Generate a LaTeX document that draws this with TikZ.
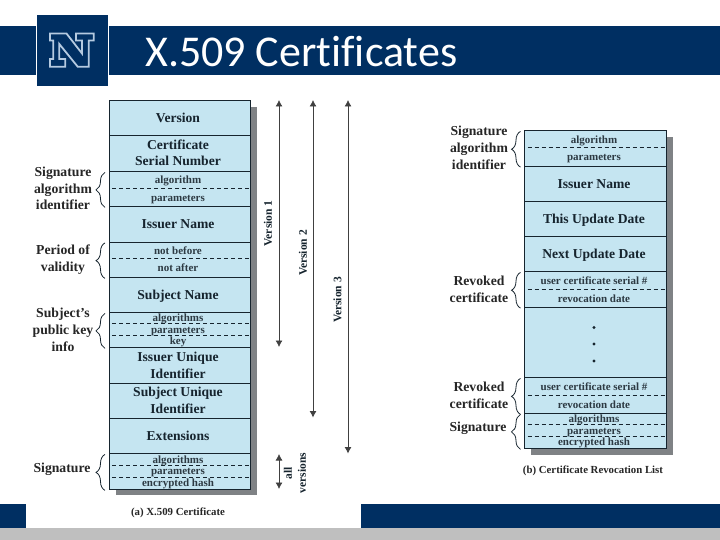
\documentclass[tikz,border=0pt]{standalone}
\usepackage{fontspec}
\setmainfont{Liberation Serif}
\newfontfamily\titlefont[RawFeature={-liga}]{Carlito}
\usetikzlibrary{decorations.pathreplacing,arrows.meta}
\definecolor{navy}{HTML}{002F62}
\definecolor{cellblue}{HTML}{C5E5F1}
\definecolor{inkdark}{HTML}{16242E}
\definecolor{shadowgray}{HTML}{7F8285}
\definecolor{footgray}{HTML}{BFBFBF}
\definecolor{logoline}{HTML}{B5CAE0}
\tikzset{
  x=1pt,y=-1pt,
  cell/.style={draw=inkdark,line width=1.4pt,fill=cellblue,inner sep=0pt,anchor=north west},
  celltext/.style={font=\fontsize{13.6}{15}\selectfont\bfseries,text=inkdark,inner sep=0pt,align=center,text height=11.5pt,text depth=3pt},
  smalltext/.style={font=\fontsize{11}{12}\selectfont\bfseries,text=inkdark!90,inner sep=0pt,text height=9pt,text depth=2.4pt},
  sidelabel/.style={font=\fontsize{13.7}{16.7}\selectfont\bfseries,text=black!85,inner sep=0pt,align=center},
  divider/.style={draw=inkdark,line width=0.8pt,dash pattern=on 4pt off 3pt},
  bracket/.style={draw=inkdark,line width=0.8pt,decorate,decoration={brace,amplitude=9pt,aspect=0.5}},
  span/.style={draw=black!75,line width=0.8pt,{Latex[length=6.5pt,width=7pt]}-{Latex[length=6.5pt,width=7pt]}},
  vlabel/.style={font=\fontsize{11.5}{14}\selectfont\bfseries,text=inkdark,inner sep=0pt,rotate=90,align=center},
  caption/.style={font=\fontsize{10.8}{12}\selectfont\bfseries,text=black!85,inner sep=0pt},
}
\newcommand{\cellbox}[4]{% name, left x, top y, height
  \node[cell,minimum width=\boxw,minimum height=#4] (#1) at (#2,#3) {};}
\newlength{\boxw}
\setlength{\boxw}{141.5pt}
\begin{document}
\begin{tikzpicture}
\useasboundingbox (0,0) rectangle (720,540);
\fill[white] (0,0) rectangle (720,540);
% banner
\fill[navy] (0,26) rectangle (36,75);
\fill[navy] (109,26) rectangle (720,75);
\fill[navy] (37,15) rectangle (108,86);
\draw[logoline,line width=1.8pt,fill=navy,line join=miter]
  (50,33.5) -- (66.5,33.5) -- (82,53.5) -- (82,40.5) -- (76,40.5) -- (76,33.5) -- (93.7,33.5) -- (93.7,40.5) -- (88.7,40.5)
  -- (88.7,66.7) -- (77.7,66.7) -- (59.3,44) -- (59.3,59) -- (65.3,59) -- (65.3,66.7) -- (50,66.7) -- (50,59) -- (53.3,59) -- (53.3,40.5) -- (50,40.5) -- cycle;
\node[font=\fontsize{44}{48}\titlefont,text=white,inner sep=0pt,anchor=base west] (title) at (145,67) {X.509 Certificates};
% footer
\fill[navy] (0,504) rectangle (26,528);
\fill[navy] (361,504) rectangle (720,528);
\fill[footgray] (0,528) rectangle (720,540);

% ---------- left table ----------
\fill[shadowgray] (115.5,107) rectangle (257,495);
\cellbox{aver}{108.5}{100}{35pt}
\cellbox{aser}{108.5}{135}{36pt}
\cellbox{aalg}{108.5}{171}{35pt}
\cellbox{aiss}{108.5}{206}{35.5pt}
\cellbox{aper}{108.5}{241.5}{35.5pt}
\cellbox{asub}{108.5}{277}{35pt}
\cellbox{akey}{108.5}{312}{35pt}
\cellbox{aiuq}{108.5}{347}{35.5pt}
\cellbox{asuq}{108.5}{382.5}{35.5pt}
\cellbox{aext}{108.5}{418}{35pt}
\cellbox{asig}{108.5}{453}{36pt}
\node[celltext] (t1) at (178,118.5) {Version};
\node[celltext] (t2) at (178,145) {Certificate};
\node[celltext] (t3) at (178,161.5) {Serial Number};
\node[smalltext] (t4) at (178,180.5) {algorithm};
\node[smalltext] (t5) at (178,198) {parameters};
\node[celltext] (t6) at (178,224) {Issuer Name};
\node[smalltext] (t7) at (178,251) {not before};
\node[smalltext] (t8) at (178,268.5) {not after};
\node[celltext] (t9) at (178,295.5) {Subject Name};
\node[smalltext] (t10) at (178,318) {algorithms};
\node[smalltext] (t11) at (178,330) {parameters};
\node[smalltext] (t12) at (178,341.5) {key};
\node[celltext] (t13) at (178,357.5) {Issuer Unique};
\node[celltext] (t14) at (178,374) {Identifier};
\node[celltext] (t15) at (178,392.5) {Subject Unique};
\node[celltext] (t16) at (178,409) {Identifier};
\node[celltext] (t17) at (178,436.5) {Extensions};
\node[smalltext] (t18) at (178,460) {algorithms};
\node[smalltext] (t19) at (178,471.5) {parameters};
\node[smalltext] (t20) at (178,483) {encrypted hash};
\draw[divider] (112,188) -- (250,188);
\draw[divider] (112,258.5) -- (250,258.5);
\draw[divider] (112,323.5) -- (250,323.5);
\draw[divider] (112,335.5) -- (250,335.5);
\draw[divider] (112,465) -- (250,465);
\draw[divider] (112,477) -- (250,477);
\draw[bracket] (aalg.south west) ++(-3.5,0) -- ++(0,-35);
\draw[bracket] (aper.south west) ++(-3.5,0) -- ++(0,-35.5);
\draw[bracket] (akey.south west) ++(-3.5,0) -- ++(0,-35);
\draw[bracket] (asig.south west) ++(-3.5,0) -- ++(0,-36);
\node[sidelabel] (l1) at (63,188.5) {Signature\\algorithm\\identifier};
\node[sidelabel] (l2) at (63,259.5) {Period of\\validity};
\node[sidelabel] (l3) at (63,330) {Subject's\\public key\\info};
\node[sidelabel] (l4) at (62,469.5) {Signature};
% version arrows
\coordinate (v1t) at (279,100); \coordinate (v1b) at (279,347);
\coordinate (v2t) at (313,100); \coordinate (v2b) at (313,417.5);
\coordinate (v3t) at (348,100); \coordinate (v3b) at (348,453.5);
\coordinate (v4t) at (279,454); \coordinate (v4b) at (279,489);
\draw[span] (v1t) -- (v1b);
\draw[span] (v2t) -- (v2b);
\draw[span] (v3t) -- (v3b);
\draw[span] (v4t) -- (v4b);
\node[vlabel] (vl1) at (268,223.5) {Version 1};
\node[vlabel] (vl2) at (303,253) {Version 2};
\node[vlabel] (vl3) at (337.5,300) {Version 3};
\node[vlabel] (vl4) at (295,473) {all\\versions};
\node[caption] (capa) at (178,512.5) {(a) X.509 Certificate};

% ---------- right table ----------
\setlength{\boxw}{141.5pt}
\fill[shadowgray] (531,137) rectangle (672.7,455);
\cellbox{balg}{524}{130}{35.7pt}
\cellbox{biss}{524}{165.7}{35pt}
\cellbox{bupd}{524}{200.7}{35.3pt}
\cellbox{bnxt}{524}{236}{35pt}
\cellbox{brv1}{524}{271}{35.7pt}
\cellbox{bdot}{524}{306.7}{70.3pt}
\cellbox{brv2}{524}{377}{36pt}
\cellbox{bsig}{524}{413}{35pt}
\node[smalltext] (r1) at (594,140) {algorithm};
\node[smalltext] (r2) at (594,157.5) {parameters};
\node[celltext] (r3) at (594,184) {Issuer Name};
\node[celltext] (r4) at (594,219.5) {This Update Date};
\node[celltext] (r5) at (594,254.5) {Next Update Date};
\node[smalltext] (r6) at (594,281) {user certificate serial \#};
\node[smalltext] (r7) at (594,299) {revocation date};
\node[smalltext] (r8) at (594,387) {user certificate serial \#};
\node[smalltext] (r9) at (594,405) {revocation date};
\node[smalltext] (r10) at (594,419) {algorithms};
\node[smalltext] (r11) at (594,431) {parameters};
\node[smalltext] (r12) at (594,442.5) {encrypted hash};
\fill[inkdark] (594,327.5) circle (1.6);
\fill[inkdark] (594,344) circle (1.6);
\fill[inkdark] (594,361) circle (1.6);
\draw[divider] (527.5,147.5) -- (665.5,147.5);
\draw[divider] (527.5,289) -- (665.5,289);
\draw[divider] (527.5,395) -- (665.5,395);
\draw[divider] (527.5,424.5) -- (665.5,424.5);
\draw[divider] (527.5,436) -- (665.5,436);
\draw[bracket] (balg.south west) ++(-3.5,0) -- ++(0,-35.7);
\draw[bracket] (brv1.south west) ++(-3.5,0) -- ++(0,-35.7);
\draw[bracket] (brv2.south west) ++(-3.5,0) -- ++(0,-36);
\draw[bracket] (bsig.south west) ++(-3.5,0) -- ++(0,-35);
\node[sidelabel] (s1) at (479,148) {Signature\\algorithm\\identifier};
\node[sidelabel] (s2) at (479,289.5) {Revoked\\certificate};
\node[sidelabel] (s3) at (479,395.5) {Revoked\\certificate};
\node[sidelabel] (s4) at (478,428.5) {Signature};
\node[caption] (capb) at (593,471) {(b) Certificate Revocation List};
\end{tikzpicture}
\end{document}
